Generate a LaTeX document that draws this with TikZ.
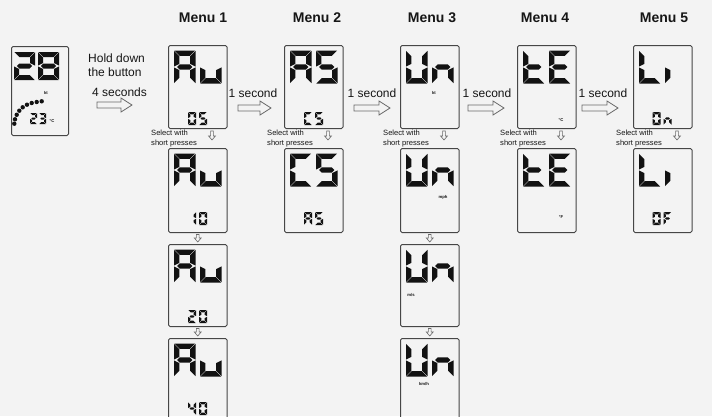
\documentclass[tikz,border=0pt]{standalone}
\usepackage{fontspec}
\setmainfont{Liberation Sans}
\usetikzlibrary{calc}
\definecolor{bgc}{RGB}{243,243,243}
\definecolor{ink}{RGB}{18,18,18}
\definecolor{framec}{RGB}{70,70,70}
\definecolor{arrowc}{RGB}{105,105,105}
\definecolor{textc}{RGB}{22,22,22}

\newcommand\lcdsega{\fill[ink] (\sgG,0) -- (\sgW-\sgG,0) -- (\sgW-\sgT-\sgG,\sgT) -- (\sgT+\sgG,\sgT) -- cycle;}
\newcommand\lcdsegd{\fill[ink] (\sgG,\sgH) -- (\sgW-\sgG,\sgH) -- (\sgW-\sgT-\sgG,\sgH-\sgT) -- (\sgT+\sgG,\sgH-\sgT) -- cycle;}
\newcommand\lcdsegg{\fill[ink] (\sgT/2+\sgG,\sgH/2) -- (\sgT+\sgG,\sgH/2-\sgT/2) -- (\sgW-\sgT-\sgG,\sgH/2-\sgT/2) -- (\sgW-\sgT/2-\sgG,\sgH/2) -- (\sgW-\sgT-\sgG,\sgH/2+\sgT/2) -- (\sgT+\sgG,\sgH/2+\sgT/2) -- cycle;}
\newcommand\lcdsegf{\fill[ink] (0,\sgG) -- (\sgT,\sgT+\sgG) -- (\sgT,\sgH/2-\sgT/2-\sgG) -- (0,\sgH/2-\sgG) -- cycle;}
\newcommand\lcdsege{\fill[ink] (0,\sgH/2+\sgG) -- (\sgT,\sgH/2+\sgT/2+\sgG) -- (\sgT,\sgH-\sgT-\sgG) -- (0,\sgH-\sgG) -- cycle;}
\newcommand\lcdsegb{\fill[ink] (\sgW,\sgG) -- (\sgW-\sgT,\sgT+\sgG) -- (\sgW-\sgT,\sgH/2-\sgT/2-\sgG) -- (\sgW,\sgH/2-\sgG) -- cycle;}
\newcommand\lcdsegc{\fill[ink] (\sgW,\sgH/2+\sgG) -- (\sgW-\sgT,\sgH/2+\sgT/2+\sgG) -- (\sgW-\sgT,\sgH-\sgT-\sgG) -- (\sgW,\sgH-\sgG) -- cycle;}

\newcommand\lcd[6]{\begin{scope}[shift={(#1,#2)}]\def\sgW{#3}\def\sgH{#4}\def\sgT{#5}\def\sgG{0.45}\foreach \s in {#6}{\csname lcdseg\s\endcsname}\end{scope}}
\newcommand\bigtwo[4]{\lcd{#1+6}{#2+5.5}{21.5}{33}{5.3}{#3}\lcd{#1+32}{#2+5.5}{21.5}{33}{5.3}{#4}}
\newcommand\smalltwo[4]{\lcd{#1-9.5}{#2}{8}{13}{2.4}{#3}\lcd{#1+1.5}{#2}{8}{13}{2.4}{#4}}

\begin{document}
\begin{tikzpicture}[x=1pt,y=-1pt,
  lcdbox/.style={draw=framec, line width=1pt, rounded corners=1.5pt, minimum width=58.5pt, inner sep=0pt, anchor=north west},
  menulbl/.style={font=\bfseries\fontsize{14}{16}\selectfont, text=textc, inner sep=0pt},
  steplbl/.style={font=\fontsize{12}{14}\selectfont, text=textc, inner sep=0pt, align=left, anchor=west},
  seclbl/.style={font=\fontsize{12}{14}\selectfont, text=textc, inner sep=0pt},
  sellbl/.style={font=\fontsize{7.6}{9.5}\selectfont, text=textc, inner sep=0pt, align=left, anchor=west},
  unitlbl/.style={font=\bfseries\fontsize{4.2}{4.2}\selectfont, text=ink, inner sep=0pt},
  hollowR/.style={draw=arrowc, line width=0.8pt, to path={let \p1=(\tikztostart), \p2=(\tikztotarget) in
     (\x1,\y1+3pt) -- (\x2-11pt,\y1+3pt) -- (\x2-11pt,\y1+7pt) -- (\x2,\y1) -- (\x2-11pt,\y1-7pt) -- (\x2-11pt,\y1-3pt) -- (\x1,\y1-3pt) -- cycle}},
  hollowD/.style={draw=arrowc, line width=0.6pt, to path={let \p1=(\tikztostart), \p2=(\tikztotarget) in
     (\x1-1.4pt,\y1) -- (\x1-1.4pt,\y2+4pt) -- (\x1-3.4pt,\y2+4pt) -- (\x1,\y2) -- (\x1+3.4pt,\y2+4pt) -- (\x1+1.4pt,\y2+4pt) -- (\x1+1.4pt,\y1) -- cycle}}
]
\useasboundingbox (0,0) rectangle (712,416);
\clip (0,0) rectangle (712,416);
\fill[bgc] (0,0) rectangle (712,416);

% menu labels
\node[menulbl] (m1) at (203,18) {Menu 1};
\node[menulbl] (m2) at (317,18) {Menu 2};
\node[menulbl] (m3) at (432,18) {Menu 3};
\node[menulbl] (m4) at (545,18) {Menu 4};
\node[menulbl] (m5) at (664,18) {Menu 5};

% boxes
\node[lcdbox, minimum width=57pt, minimum height=89pt] (b0) at (11,46) {};
\node[lcdbox, minimum height=83pt] (b11) at (168,45) {};
\node[lcdbox, minimum height=83pt] (b21) at (284,45) {};
\node[lcdbox, minimum height=83pt] (b31) at (400,45) {};
\node[lcdbox, minimum height=83pt] (b41) at (517,45) {};
\node[lcdbox, minimum height=83pt] (b51) at (633,45) {};
\node[lcdbox, minimum height=84pt] (b12) at (168,148) {};
\node[lcdbox, minimum height=84pt] (b22) at (284,148) {};
\node[lcdbox, minimum height=84pt] (b32) at (400,148) {};
\node[lcdbox, minimum height=84pt] (b42) at (517,148) {};
\node[lcdbox, minimum height=84pt] (b52) at (633,148) {};
\node[lcdbox, minimum height=82pt] (b13) at (168,244) {};
\node[lcdbox, minimum height=82pt] (b33) at (400,244) {};
\node[lcdbox, minimum height=84pt] (b14) at (168,338) {};
\node[lcdbox, minimum height=84pt] (b34) at (400,338) {};

% left display
\lcd{14}{52}{21}{28}{5}{a,b,g,e,d}
\lcd{38}{52}{21}{28}{5}{a,b,c,d,e,f,g}
\lcd{30}{113}{7}{11}{2}{a,b,g,e,d}
\lcd{39}{113}{7}{11}{2}{a,b,g,c,d}
\node[unitlbl] (u0a) at (52,121) {°C};
\node[unitlbl] (u0b) at (46,93) {kt};
\foreach \p in {(14.3,123.7),(15,119.3),(16.7,114.8),(19.3,110.7),(22.7,107.3),(27,104.7),(31.7,103),(36.7,102),(41.7,101.3)}
  \fill[ink] \p circle[radius=2.2pt];

% row 1
\bigtwo{168}{45}{a,b,c,e,f,g}{c,d,e}
\smalltwo{197.5}{112}{a,b,c,d,e,f}{a,f,g,c,d}
\bigtwo{284}{45}{a,b,c,e,f,g}{a,f,g,c,d}
\smalltwo{313.5}{112}{a,d,e,f}{a,f,g,c,d}
\bigtwo{400}{45}{b,c,d,e,f}{c,e,g}
\node[unitlbl] (u31) at (434,93) {kt};
\bigtwo{517}{45}{d,e,f,g}{a,d,e,f,g}
\node[unitlbl] (u41) at (561,120) {°C};
\bigtwo{633}{45}{d,e,f}{e}
\smalltwo{662}{112}{a,b,c,d,e,f}{c,e,g}

% row 2
\bigtwo{168}{148}{a,b,c,e,f,g}{c,d,e}
\smalltwo{197.5}{212}{b,c}{a,b,c,d,e,f}
\bigtwo{284}{148}{a,d,e,f}{a,f,g,c,d}
\smalltwo{313.5}{212}{a,b,c,e,f,g}{a,f,g,c,d}
\bigtwo{400}{148}{b,c,d,e,f}{c,e,g}
\node[unitlbl] (u32) at (443,197) {mph};
\bigtwo{517}{148}{d,e,f,g}{a,d,e,f,g}
\node[unitlbl] (u42) at (561,217) {°F};
\bigtwo{633}{148}{d,e,f}{e}
\smalltwo{662}{212}{a,b,c,d,e,f}{a,e,f,g}

% row 3
\bigtwo{168}{244}{a,b,c,e,f,g}{c,d,e}
\smalltwo{197.5}{310}{a,b,g,e,d}{a,b,c,d,e,f}
\bigtwo{400}{244}{b,c,d,e,f}{c,e,g}
\node[unitlbl] (u33) at (411,295) {m/s};

% row 4
\bigtwo{168}{338}{a,b,c,e,f,g}{c,d,e}
\smalltwo{197.5}{402}{f,g,b,c}{a,b,c,d,e,f}
\bigtwo{400}{338}{b,c,d,e,f}{c,e,g}
\node[unitlbl] (u34) at (424,384) {km/h};

% texts
\node[steplbl] (hold) at (88,65) {Hold down\\the button};
\node[steplbl] (four) at (92,92) {4 seconds};
\node[seclbl] (s1) at (253,93) {1 second};
\node[seclbl] (s2) at (372,93) {1 second};
\node[seclbl] (s3) at (487,93) {1 second};
\node[seclbl] (s4) at (603,93) {1 second};
\foreach \L/\k in {168/1,284/2,400/3,517/4,633/5}{
  \node[sellbl] (sel\k) at (\L-17,138.5) {Select with\\short presses};
  \coordinate (sa\k) at (\L+44,131);
  \coordinate (sb\k) at (\L+44,140);
}
\foreach \k in {1,...,5}{\draw[hollowD] (sa\k) to (sb\k);}

% horizontal hollow arrows
\coordinate (h0s) at (97,105);  \coordinate (h0e) at (132,105);
\coordinate (h1s) at (238,108); \coordinate (h1e) at (271,108);
\coordinate (h2s) at (354,108); \coordinate (h2e) at (390,108);
\coordinate (h3s) at (468,108); \coordinate (h3e) at (504,108);
\coordinate (h4s) at (582,108); \coordinate (h4e) at (618,108);
\foreach \i in {0,...,4}{\draw[hollowR] (h\i s) to (h\i e);}

% vertical arrows between rows
\coordinate (v1a) at ($(b12.south)+(0,1.5)$); \coordinate (v1b) at ($(b13.north)+(0,-2)$);
\coordinate (v2a) at ($(b13.south)+(0,1.5)$); \coordinate (v2b) at ($(b14.north)+(0,-2)$);
\coordinate (v3a) at ($(b32.south)+(0,1.5)$); \coordinate (v3b) at ($(b33.north)+(0,-2)$);
\coordinate (v4a) at ($(b33.south)+(0,1.5)$); \coordinate (v4b) at ($(b34.north)+(0,-2)$);
\foreach \i in {1,...,4}{\draw[hollowD] (v\i a) to (v\i b);}
\end{tikzpicture}
\end{document}
